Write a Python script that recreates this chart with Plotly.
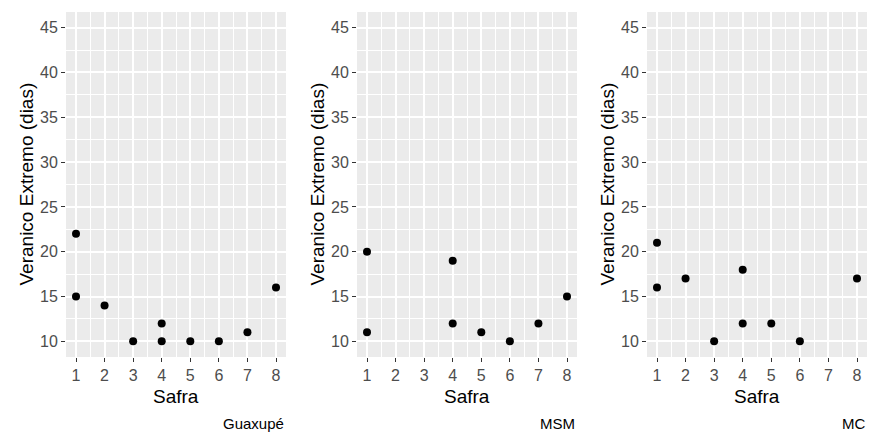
import plotly.graph_objects as go

# ---- data ----
panels = ["Guaxupé", "MSM", "MC"]
guaxupe_x = [1, 1, 2, 3, 4, 4, 5, 6, 7, 8]
guaxupe_y = [22, 15, 14, 10, 12, 10, 10, 10, 11, 16]
msm_x = [1, 1, 4, 4, 5, 6, 7, 8]
msm_y = [20, 11, 19, 12, 11, 10, 12, 15]
mc_x = [1, 1, 2, 3, 4, 4, 5, 6, 8]
mc_y = [21, 16, 17, 10, 18, 12, 12, 10, 17]
x_ticks = [1, 2, 3, 4, 5, 6, 7, 8]
y_ticks = [10, 15, 20, 25, 30, 35, 40, 45]
x_title = "Safra"
y_title = "Veranico Extremo (dias)"

series = [(guaxupe_x, guaxupe_y), (msm_x, msm_y), (mc_x, mc_y)]

W, H = 873, 436
px_left = [66, 357, 647]
px_right = [286, 577, 867]
px_top, px_bottom = 12, 357

FONT = "Liberation Sans, Arial, sans-serif"

fig = go.Figure()
annotations = []
for i, ((xs, ys), name) in enumerate(zip(series, panels)):
    n = "" if i == 0 else str(i + 1)
    fig.add_trace(go.Scatter(
        x=xs, y=ys, mode="markers",
        marker=dict(color="black", size=8, line=dict(width=0)),
        xaxis="x" + n, yaxis="y" + n, showlegend=False,
        hoverinfo="x+y",
    ))
    xd = [px_left[i] / W, px_right[i] / W]
    yd = [1 - px_bottom / H, 1 - px_top / H]
    common = dict(
        showline=False, zeroline=False,
        ticks="outside", ticklen=4, tickwidth=1, tickcolor="#333333",
        tickfont=dict(family=FONT, size=16, color="#4D4D4D"),
        showgrid=True, gridcolor="white", gridwidth=1.6,
        fixedrange=True,
    )
    fig.update_layout(**{
        "xaxis" + n: dict(
            domain=xd, anchor="y" + n, range=[0.65, 8.35],
            tickmode="array", tickvals=x_ticks, ticktext=[str(v) for v in x_ticks],
            minor=dict(tickmode="array", tickvals=[v + 0.5 for v in x_ticks[:-1]],
                       showgrid=True, gridcolor="white", gridwidth=0.8, ticks=""),
            **common),
        "yaxis" + n: dict(
            domain=yd, anchor="x" + n, range=[8.25, 46.75],
            tickmode="array", tickvals=y_ticks, ticktext=[str(v) for v in y_ticks],
            minor=dict(tickmode="array", tickvals=[v + 2.5 for v in y_ticks[:-1]],
                       showgrid=True, gridcolor="white", gridwidth=0.8, ticks=""),
            **common),
    })
    cx = (px_left[i] + px_right[i]) / 2 / W
    annotations.append(dict(
        text=x_title, x=cx, y=1 - 396 / H, xref="paper", yref="paper",
        xanchor="center", yanchor="middle", showarrow=False,
        font=dict(family=FONT, size=19, color="black")))
    annotations.append(dict(
        text=y_title, x=(px_left[i] - 40) / W, y=1 - (px_top + px_bottom) / 2 / H,
        xref="paper", yref="paper", textangle=-90,
        xanchor="center", yanchor="middle", showarrow=False,
        font=dict(family=FONT, size=19, color="black")))
    annotations.append(dict(
        text=name, x=px_right[i] / W, y=1 - 423 / H, xref="paper", yref="paper",
        xanchor="right", yanchor="middle", showarrow=False,
        font=dict(family=FONT, size=15, color="black")))

fig.update_layout(
    width=W, height=H,
    margin=dict(l=0, r=0, t=0, b=0),
    paper_bgcolor="white", plot_bgcolor="#EBEBEB",
    annotations=annotations,
    font=dict(family=FONT),
)
fig.write_html("out.html", config={"displayModeBar": False})

# remove the browser's default page margin so the figure sits at (0, 0)
with open("out.html", encoding="utf-8") as f:
    html = f.read()
html = html.replace("<head>", "<head><style>html,body{margin:0;padding:0;overflow:hidden;}</style>", 1)
with open("out.html", "w", encoding="utf-8") as f:
    f.write(html)
